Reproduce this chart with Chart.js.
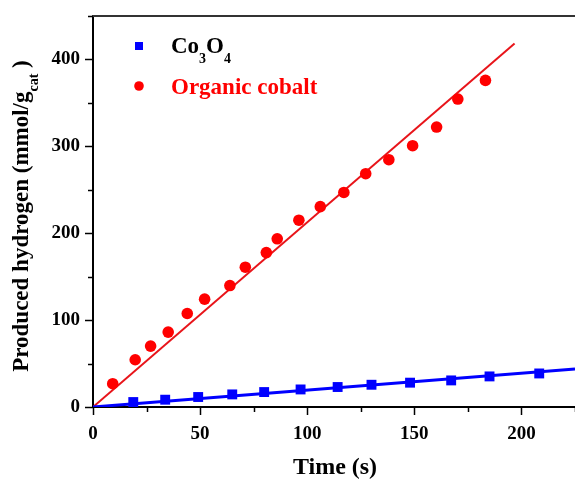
<!DOCTYPE html>
<html>
<head>
<meta charset="utf-8">
<script src="https://cdn.jsdelivr.net/npm/chart.js@4"></script>
<style>
  html, body { margin: 0; padding: 0; background: #fff; overflow: hidden; }
  /* a bit wider than the window: the original figure is cut at the right edge */
  #wrap { width: 582px; height: 479px; position: relative; }
  canvas { display: block; }
</style>
</head>
<body>
<div id="wrap"><canvas id="h2Chart"></canvas></div>
<script>
// Data
const co3o4Time = [18.8, 33.7, 49.1, 65.0, 79.9, 96.9, 114.2, 130.0, 148.0, 167.2, 185.1, 208.3];
const co3o4H2 = [5.7, 8.4, 11.5, 14.5, 17.2, 20.2, 23.0, 25.6, 28.0, 30.6, 35.2, 38.6];

const organicTime = [9.2, 19.7, 26.9, 35.1, 44.0, 52.1, 63.9, 71.1, 80.9, 86.0, 96.1, 106.1, 117.1, 127.3, 138.1, 149.2, 160.4, 170.3, 183.2];
const organicH2 = [26.8, 54.4, 70.1, 86.2, 107.6, 124.1, 139.8, 160.9, 177.7, 193.6, 215.0, 230.6, 246.9, 268.5, 284.6, 300.7, 322.2, 354.4, 375.9];

// linear fit lines (end points)
const co3o4FitTime = [0, 225];
const co3o4FitH2 = [0, 43.7];
const organicFitTime = [0, 196.8];
const organicFitH2 = [0, 418.4];

const xTicks = [0, 50, 100, 150, 200];
const yTicks = [0, 100, 200, 300, 400];

const FONT = "'Times New Roman', 'Liberation Serif', serif";
const BLUE = '#0000FF';
const RED = '#FF0000';

const toPoints = (xs, ys) => xs.map((x, i) => ({ x: x, y: ys[i] }));

// draws text with subscripts: parts = [[text, isSub], ...]
function drawRich(ctx, parts, x, y, size, color) {
  let cx = x;
  parts.forEach(([t, sub]) => {
    const s = sub ? Math.round(size * 0.62) : size;
    ctx.font = 'bold ' + s + 'px ' + FONT;
    ctx.fillStyle = color;
    ctx.fillText(t, cx, sub ? y + size * 0.42 : y);
    cx += ctx.measureText(t).width;
  });
  return cx - x;
}
function richWidth(ctx, parts, size) {
  let w = 0;
  parts.forEach(([t, sub]) => {
    const s = sub ? Math.round(size * 0.62) : size;
    ctx.font = 'bold ' + s + 'px ' + FONT;
    w += ctx.measureText(t).width;
  });
  return w;
}

const decorPlugin = {
  id: 'decor',
  afterDraw(chart) {
    const ctx = chart.ctx;
    const area = chart.chartArea;
    const xs = chart.scales.x, ys = chart.scales.y;
    ctx.save();

    // top frame line
    ctx.strokeStyle = '#333';
    ctx.lineWidth = 2;
    ctx.beginPath();
    ctx.moveTo(area.left - 1, area.top);
    ctx.lineTo(chart.width, area.top);
    ctx.stroke();

    // tick marks (major longer, minor shorter), pointing outwards
    ctx.strokeStyle = '#000';
    ctx.lineWidth = 1.5;
    xs.ticks.forEach(t => {
      const px = Math.round(xs.getPixelForValue(t.value)) + 0.5;
      const len = xTicks.includes(t.value) ? 8 : 5;
      ctx.beginPath();
      ctx.moveTo(px, area.bottom);
      ctx.lineTo(px, area.bottom + len);
      ctx.stroke();
    });
    ys.ticks.forEach(t => {
      const py = Math.round(ys.getPixelForValue(t.value)) + 0.5;
      const len = yTicks.includes(t.value) ? 8 : 5;
      ctx.beginPath();
      ctx.moveTo(area.left, py);
      ctx.lineTo(area.left - len, py);
      ctx.stroke();
    });

    // axis titles
    ctx.textBaseline = 'alphabetic';
    ctx.textAlign = 'left';
    const xt = [['Time (s)', false]];
    const xw = richWidth(ctx, xt, 24);
    drawRich(ctx, xt, 335 - xw / 2, 474, 24, '#000');

    const yt = [['Produced hydrogen (mmol/g', false], ['cat', true], [' )', false]];
    const yw = richWidth(ctx, yt, 23);
    ctx.translate(28, 216);
    ctx.rotate(-Math.PI / 2);
    drawRich(ctx, yt, -yw / 2, 0, 23, '#000');
    ctx.restore();

    // legend
    ctx.save();
    ctx.fillStyle = BLUE;
    ctx.fillRect(135, 42, 8, 8);
    ctx.fillStyle = RED;
    ctx.beginPath();
    ctx.arc(139, 86, 4.8, 0, Math.PI * 2);
    ctx.fill();
    ctx.textAlign = 'left';
    ctx.textBaseline = 'alphabetic';
    drawRich(ctx, [['Co', false], ['3', true], ['O', false], ['4', true]], 171, 53, 23, '#000');
    drawRich(ctx, [['Organic cobalt', false]], 171, 94, 23, RED);
    ctx.restore();
  }
};

const data = {
  datasets: [
    {
      type: 'scatter',
      label: 'Co3O4',
      data: toPoints(co3o4Time, co3o4H2),
      pointStyle: 'rect',
      pointRadius: 7,
      backgroundColor: BLUE,
      borderColor: BLUE,
      borderWidth: 0
    },
    {
      type: 'scatter',
      label: 'Organic cobalt',
      data: toPoints(organicTime, organicH2),
      pointStyle: 'circle',
      pointRadius: 5.8,
      backgroundColor: RED,
      borderColor: RED,
      borderWidth: 0
    },
    {
      type: 'line',
      label: 'Co3O4 fit',
      data: toPoints(co3o4FitTime, co3o4FitH2),
      borderColor: BLUE,
      borderWidth: 3,
      pointRadius: 0,
      fill: false
    },
    {
      type: 'line',
      label: 'Organic cobalt fit',
      data: toPoints(organicFitTime, organicFitH2),
      borderColor: '#E8141A',
      borderWidth: 2,
      pointRadius: 0,
      fill: false
    }
  ]
};

const options = {
  responsive: true,
  maintainAspectRatio: false,
  animation: false,
  layout: { padding: { top: 16, right: 0, bottom: 0, left: 0 } },
  plugins: {
    legend: { display: false },
    tooltip: { enabled: false }
  },
  scales: {
    x: {
      type: 'linear',
      min: 0,
      max: 225,
      afterFit: s => { s.height = 72; s.paddingLeft = 0; s.paddingRight = 0; },
      border: { display: true, color: '#000', width: 2 },
      grid: { drawOnChartArea: false, drawTicks: false },
      ticks: {
        stepSize: 25,
        padding: 16,
        autoSkip: false,
        maxRotation: 0,
        color: '#000',
        font: { family: FONT, size: 19, weight: 'bold' },
        callback: v => xTicks.includes(v) ? String(v) : ''
      }
    },
    y: {
      type: 'linear',
      min: 0,
      max: 450,
      afterFit: s => { s.width = 93; s.paddingTop = 0; s.paddingBottom = 0; },
      border: { display: true, color: '#000', width: 2 },
      grid: { drawOnChartArea: false, drawTicks: false },
      ticks: {
        stepSize: 50,
        padding: 13,
        autoSkip: false,
        color: '#000',
        font: { family: FONT, size: 19, weight: 'bold' },
        callback: v => yTicks.includes(v) ? String(v) : ''
      }
    }
  }
};

const ctx = document.getElementById('h2Chart').getContext('2d');
const h2Chart = new Chart(ctx, {
  type: 'scatter',
  data: data,
  options: options,
  plugins: [decorPlugin]
});
</script>
</body>
</html>
